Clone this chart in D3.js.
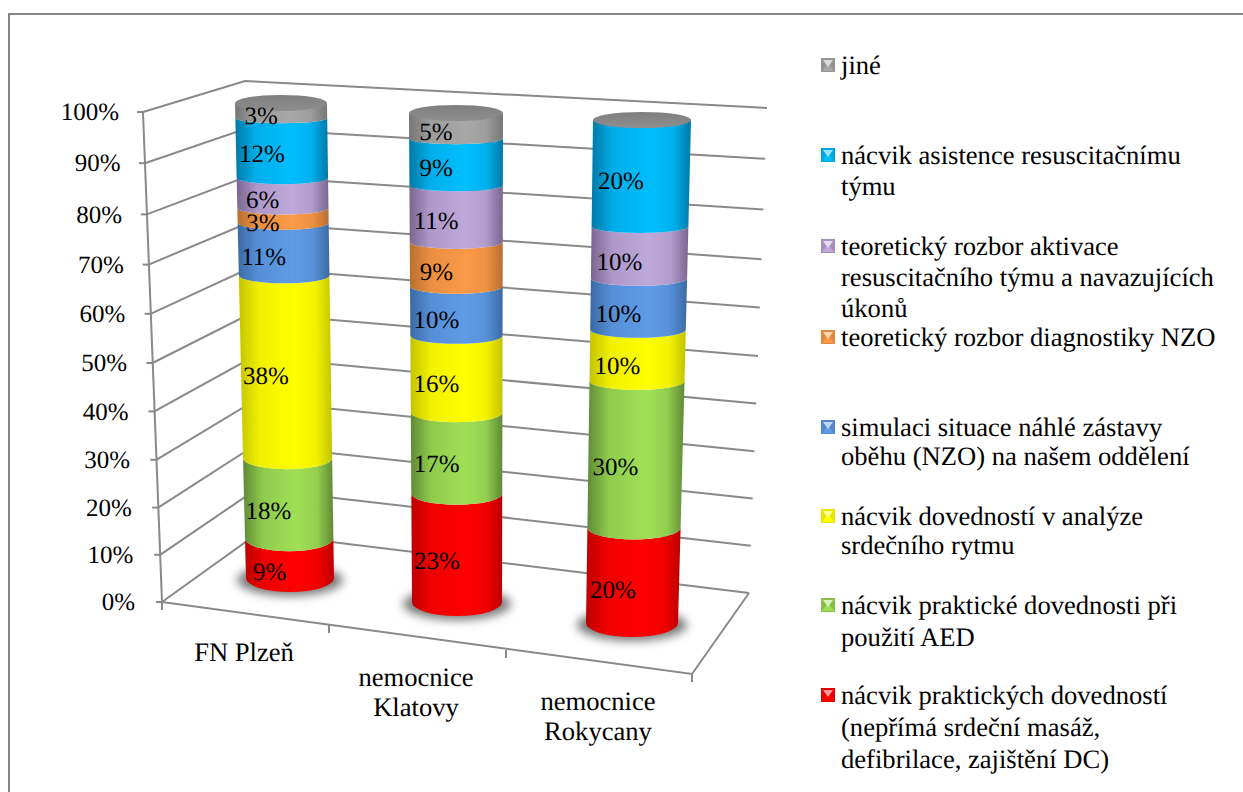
<!DOCTYPE html>
<html>
<head>
<meta charset="utf-8">
<style>
  html, body { margin: 0; padding: 0; background: #fff; }
  svg { display: block; }
  text { font-family: "Liberation Serif", serif; fill: #000; text-rendering: geometricPrecision; }
</style>
<script src="https://cdn.jsdelivr.net/npm/d3@7/dist/d3.min.js"></script>
</head>
<body>
<script>
// Stacked cylinder chart: share of requested training topics by hospital.
const hospitals = ["FN Plzeň", "nemocnice Klatovy", "nemocnice Rokycany"];
const topics = [
  "red", "green", "yellow", "blue", "orange", "purple", "cyan", "gray"
];
const redValues    = [9, 23, 20];
const greenValues  = [18, 17, 30];
const yellowValues = [38, 16, 10];
const blueValues   = [11, 10, 10];
const orangeValues = [3, 9, 0];
const purpleValues = [6, 11, 10];
const cyanValues   = [12, 9, 20];
const grayValues   = [3, 5, 0];
const seriesValues = [redValues, greenValues, yellowValues, blueValues, orangeValues, purpleValues, cyanValues, grayValues];
const percentTicks = [0, 10, 20, 30, 40, 50, 60, 70, 80, 90, 100];

const legendEntries = [
  { key: "gray",   lines: ["jiné"], y: [65] },
  { key: "cyan",   lines: ["nácvik asistence resuscitačnímu", "týmu"], y: [155, 186] },
  { key: "purple", lines: ["teoretický rozbor aktivace", "resuscitačního týmu a navazujících", "úkonů"], y: [246, 277, 308] },
  { key: "orange", lines: ["teoretický rozbor diagnostiky NZO"], y: [337] },
  { key: "blue",   lines: ["simulaci situace náhlé zástavy", "oběhu (NZO) na našem oddělení"], y: [427, 456] },
  { key: "yellow", lines: ["nácvik dovedností v analýze", "srdečního rytmu"], y: [516, 545] },
  { key: "green",  lines: ["nácvik praktické dovednosti při", "použití AED"], y: [605, 637] },
  { key: "red",    lines: ["nácvik praktických dovedností", "(nepřímá srdeční masáž,", "defibrilace, zajištění DC)"], y: [695, 727, 759] }
];

// Shades for each band: [edge, centre] of the cylinder's horizontal shading.
const shades = {
  red:    ["#bd0000", "#ff0000"],
  green:  ["#5f8a35", "#a0e055"],
  yellow: ["#c4c400", "#ffff00"],
  blue:   ["#3a6aa5", "#5f9be6"],
  orange: ["#b86f30", "#fb9a47"],
  purple: ["#796690", "#bfa9da"],
  cyan:   ["#0079a8", "#00bfff"],
  gray:   ["#767676", "#a8a8a8"]
};

const W = 1243, H = 792;
const svg = d3.select("body").append("svg").attr("width", W).attr("height", H);
const defs = svg.append("defs");

Object.entries(shades).forEach(([key, [edge, mid]]) => {
  const g = defs.append("linearGradient").attr("id", "cyl-" + key);
  g.append("stop").attr("offset", "0%").attr("stop-color", edge);
  g.append("stop").attr("offset", "22%").attr("stop-color", d3.interpolateRgb(edge, mid)(0.75));
  g.append("stop").attr("offset", "60%").attr("stop-color", mid);
  g.append("stop").attr("offset", "82%").attr("stop-color", d3.interpolateRgb(edge, mid)(0.8));
  g.append("stop").attr("offset", "100%").attr("stop-color", edge);
});
const capGrad = defs.append("linearGradient").attr("id", "cap").attr("x2", 0).attr("y2", 1);
capGrad.append("stop").attr("offset", "0%").attr("stop-color", "#7f7f7f");
capGrad.append("stop").attr("offset", "100%").attr("stop-color", "#8e8e8e");
defs.append("filter").attr("id", "soft").attr("x", "-30%").attr("y", "-60%").attr("width", "160%").attr("height", "220%")
  .append("feGaussianBlur").attr("stdDeviation", 5);

// Outer chart frame: its left and top sides run off the page.
svg.append("path")
  .attr("d", "M9,792V14H1243")
  .attr("fill", "none").attr("stroke", "#868686").attr("stroke-width", 2);

// Perspective of the plot box: one vertical scale per box edge.
const stops = [0, 25, 50, 75, 100];
const leftY   = d3.scaleLinear().domain(stops).range([602, 484, 363, 240, 112]);
const leftX   = d3.scaleLinear().domain([0, 100]).range([162, 143]);
const cornerY = d3.scaleLinear().domain(stops).range([533, 423, 313, 200, 81]);
const cornerX = d3.scaleLinear().domain([0, 100]).range([258, 245]);
const rightY  = d3.scaleLinear().domain(stops).range([593, 475, 356, 235, 108]);
const rightX  = d3.scaleLinear().domain([0, 100]).range([749, 767]);
const tickLabelX = d3.scaleLinear().domain([0, 100]).range([135, 119]);

// Front edge of the floor, category boundaries widen towards the viewer.
const catX = d3.scaleLinear().domain([0, 1, 2, 3]).range([162, 329, 506, 692]);
const catY = d3.scaleLinear().domain([0, 1, 2, 3]).range([602, 625, 650, 674]);

const grid = svg.append("g").attr("fill", "none").attr("stroke", "#898989").attr("stroke-width", 2);
percentTicks.forEach(v => {
  grid.append("polyline").attr("points",
    [[leftX(v), leftY(v)], [cornerX(v), cornerY(v)], [rightX(v), rightY(v)]].join(" "));
  grid.append("line")
    .attr("x1", leftX(v) - 6).attr("y1", leftY(v))
    .attr("x2", leftX(v)).attr("y2", leftY(v));
});
grid.append("line")
  .attr("x1", leftX(0)).attr("y1", leftY(0))
  .attr("x2", leftX(100)).attr("y2", leftY(100));
grid.append("polyline").attr("points",
  [[leftX(0), leftY(0)], [catX(3), catY(3)], [rightX(0), rightY(0)]].join(" "));
[0, 1, 2, 3].forEach(i => {
  grid.append("line")
    .attr("x1", catX(i)).attr("y1", catY(i))
    .attr("x2", catX(i)).attr("y2", catY(i) + 8);
});

// Percent labels on the left axis.
svg.append("g").selectAll("text").data(percentTicks).join("text")
  .attr("x", v => tickLabelX(v))
  .attr("y", v => leftY(v))
  .attr("dy", "0.33em")
  .attr("text-anchor", "end")
  .attr("font-size", 25)
  .text(v => v + "%");

// Hospital names beneath the floor.
const hospitalLabels = [[["FN Plzeň"], [652]], [["nemocnice", "Klatovy"], [677, 707]], [["nemocnice", "Rokycany"], [701, 731]]];
const labelX = d3.scaleOrdinal().domain(hospitals).range([244, 416, 598]);
hospitals.forEach((name, i) => {
  const [lines, ys] = hospitalLabels[i];
  lines.forEach((t, j) => {
    svg.append("text").attr("x", labelX(name)).attr("y", ys[j]).attr("dy", "0.33em")
      .attr("text-anchor", "middle").attr("font-size", 26.6).text(t);
  });
});

// One set of scales per cylinder; the three stand at different depths.
const barY = [
  d3.scaleLinear().domain(stops).range([578, 468, 347, 228, 103]),
  d3.scaleLinear().domain(stops).range([602, 484, 365, 242, 113]),
  d3.scaleLinear().domain(stops).range([623, 504, 381, 253, 120])
];
const barCx = [
  d3.scaleLinear().domain([0, 100]).range([290, 281]),
  d3.scaleLinear().domain([0, 100]).range([457, 456]),
  d3.scaleLinear().domain([0, 100]).range([632, 642])
];
const barRx = [
  d3.scaleLinear().domain([0, 100]).range([44, 46]),
  d3.scaleLinear().domain([0, 100]).range([45, 47]),
  d3.scaleLinear().domain([0, 100]).range([46, 49])
];
const ellipseRy = d3.scaleLinear().domain([0, 25, 60, 100]).range([14, 11, 8, 5]).clamp(true);
const capRy = 8;

const shadows = svg.append("g").attr("filter", "url(#soft)");
const bars = svg.append("g");
const labels = svg.append("g");

hospitals.forEach((name, b) => {
  const y = barY[b], cx = barCx[b], rx = barRx[b];
  shadows.append("ellipse")
    .attr("cx", cx(0)).attr("cy", y(0) + 2)
    .attr("rx", rx(0) + 9).attr("ry", ellipseRy(0) + 2)
    .attr("fill", "#7a7a7a");

  let total = 0;
  topics.forEach((key, s) => {
    const v = seriesValues[s][b];
    const lo = total, hi = total + v;
    total = hi;
    if (v === 0) return;
    const x0 = cx(lo), x1 = cx(hi), r0 = rx(lo), r1 = rx(hi);
    const y0 = y(lo), y1 = y(hi);
    bars.append("path")
      .attr("d", `M${x0 - r0},${y0}A${r0},${ellipseRy(lo)} 0 0 0 ${x0 + r0},${y0}` +
                 `L${x1 + r1},${y1}A${r1},${ellipseRy(hi)} 0 0 1 ${x1 - r1},${y1}Z`)
      .attr("fill", `url(#cyl-${key})`);
    const mid = (lo + hi) / 2;
    labels.append("text")
      .attr("x", cx(mid) - 20)
      .attr("y", y(mid) + ellipseRy(mid) + (b === 2 ? 2 : 0.5))
      .attr("dy", "0.33em")
      .attr("text-anchor", "middle")
      .attr("font-size", 25)
      .text(v + "%");
  });
  bars.append("ellipse")
    .attr("cx", cx(100)).attr("cy", y(100))
    .attr("rx", rx(100)).attr("ry", capRy)
    .attr("fill", "url(#cap)");
});

// Legend with bevelled colour keys.
const legend = svg.append("g");
const keySize = 14, keyX = 821;
legendEntries.forEach(entry => {
  const [edge, mid] = shades[entry.key];
  const ky = entry.y[0] - 7;
  const k = legend.append("g").attr("transform", `translate(${keyX},${ky})`);
  k.append("rect").attr("width", keySize).attr("height", keySize)
    .attr("fill", d3.interpolateRgb(edge, mid)(0.6));
  k.append("polygon").attr("points", `1,${keySize - 1} ${keySize - 1},${keySize - 1} ${keySize / 2},5`)
    .attr("fill", mid);
  k.append("polygon").attr("points", `2,2 ${keySize - 2},2 ${keySize / 2},${keySize - 5}`)
    .attr("fill", d3.interpolateRgb(mid, "#fff")(0.6));
  entry.lines.forEach((t, i) => {
    legend.append("text").attr("x", 841).attr("y", entry.y[i]).attr("dy", "0.33em")
      .attr("font-size", 26.6).text(t);
  });
});
</script>
</body>
</html>
